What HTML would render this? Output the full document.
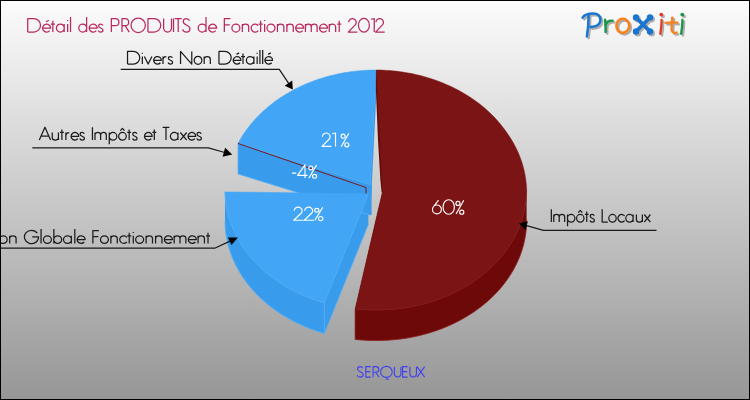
<!DOCTYPE html>
<html><head><meta charset="utf-8"><title>Détail des PRODUITS de Fonctionnement 2012</title>
<style>
html,body{margin:0;padding:0;background:#fff;}
body{width:750px;height:400px;overflow:hidden;font-family:"Liberation Sans",sans-serif;}
svg{display:block;font-family:"Liberation Sans",sans-serif;}
</style></head><body>
<svg width="750" height="400" viewBox="0 0 750 400">
<defs>
<linearGradient id="bg" x1="0" y1="0" x2="0" y2="1">
<stop offset="0" stop-color="#fcfcfc"/><stop offset="1" stop-color="#969696"/>
</linearGradient>
<clipPath id="inner"><rect x="1" y="1" width="748" height="398"/></clipPath>
</defs>
<rect x="0" y="0" width="750" height="400" fill="url(#bg)"/>
<rect x="0.5" y="0.5" width="749" height="399" fill="none" stroke="#000" stroke-width="1"/>
<g>
<polygon points="370.30,183.80 376.05,69.20 376.05,100.50 370.30,215.10" fill="#389beb" />
<polygon points="370.30,183.80 238.03,142.63 238.03,173.93 370.30,215.10" fill="#389beb" />
<polygon points="368.40,193.00 324.31,302.14 324.31,333.44 368.40,224.30" fill="#389beb" />
<polygon points="382.60,191.20 355.16,308.95 355.16,339.45 382.60,221.70" fill="#6e0909" />
<polygon points="375.00,70.00 376.30,100.00 378.00,140.00 380.40,180.00 381.60,192.50 383.60,192.00 377.60,70.00" fill="#650909" />
<polygon points="225.02,191.08 225.08,193.18 225.19,195.27 225.35,197.36 225.55,199.45 225.79,201.54 226.09,203.62 226.42,205.69 226.81,207.77 227.23,209.83 227.71,211.89 228.22,213.94 228.79,215.99 229.39,218.03 230.04,220.06 230.74,222.08 231.48,224.08 232.26,226.08 233.09,228.07 233.96,230.05 234.87,232.01 235.82,233.96 236.82,235.89 237.86,237.82 238.94,239.72 240.07,241.62 241.23,243.49 242.44,245.35 243.68,247.19 244.97,249.02 246.29,250.82 247.65,252.61 249.06,254.38 250.50,256.13 251.98,257.86 253.49,259.56 255.05,261.25 256.64,262.91 258.26,264.56 259.93,266.17 261.62,267.77 263.35,269.34 265.12,270.89 266.92,272.41 268.75,273.90 270.61,275.38 272.51,276.82 274.44,278.24 276.39,279.63 278.38,280.99 280.40,282.33 282.44,283.63 284.52,284.91 286.62,286.16 288.75,287.38 290.90,288.57 293.08,289.73 295.29,290.85 297.52,291.95 299.77,293.02 302.05,294.05 304.35,295.06 306.67,296.03 309.01,296.96 311.37,297.87 313.75,298.74 316.15,299.58 318.57,300.38 321.00,301.15 323.45,301.89 324.31,302.14 324.31,333.44 323.45,333.19 321.00,332.45 318.57,331.68 316.15,330.88 313.75,330.04 311.37,329.17 309.01,328.26 306.67,327.33 304.35,326.36 302.05,325.35 299.77,324.32 297.52,323.25 295.29,322.15 293.08,321.03 290.90,319.87 288.75,318.68 286.62,317.46 284.52,316.21 282.44,314.93 280.40,313.63 278.38,312.29 276.39,310.93 274.44,309.54 272.51,308.12 270.61,306.68 268.75,305.20 266.92,303.71 265.12,302.19 263.35,300.64 261.62,299.07 259.93,297.47 258.26,295.86 256.64,294.21 255.05,292.55 253.49,290.86 251.98,289.16 250.50,287.43 249.06,285.68 247.65,283.91 246.29,282.12 244.97,280.32 243.68,278.49 242.44,276.65 241.23,274.79 240.07,272.92 238.94,271.02 237.86,269.12 236.82,267.19 235.82,265.26 234.87,263.31 233.96,261.35 233.09,259.37 232.26,257.38 231.48,255.38 230.74,253.38 230.04,251.36 229.39,249.33 228.79,247.29 228.22,245.24 227.71,243.19 227.23,241.13 226.81,239.07 226.42,236.99 226.09,234.92 225.79,232.84 225.55,230.75 225.35,228.66 225.19,226.57 225.08,224.48 225.02,222.38" fill="#389beb" />
<polygon points="355.16,308.15 357.76,308.40 360.36,308.63 362.97,308.81 365.58,308.96 368.20,309.08 370.81,309.15 373.43,309.19 376.33,309.20 379.14,309.16 381.96,309.09 384.78,308.99 387.59,308.85 390.40,308.67 393.20,308.45 395.92,308.20 398.51,307.91 401.10,307.59 403.68,307.23 406.25,306.83 408.81,306.40 411.36,305.93 413.90,305.43 416.43,304.89 418.95,304.32 421.46,303.71 423.95,303.07 426.42,302.39 428.89,301.67 431.33,300.93 433.76,300.15 436.17,299.33 438.57,298.48 440.94,297.60 443.30,296.69 445.63,295.74 447.94,294.76 450.24,293.75 452.51,292.70 454.75,291.63 456.97,290.52 459.17,289.38 461.35,288.21 463.49,287.02 465.61,285.79 467.71,284.53 469.77,283.24 471.81,281.93 473.82,280.58 475.80,279.21 477.75,277.81 479.66,276.39 481.55,274.94 483.40,273.46 485.23,271.95 487.01,270.43 488.77,268.87 490.49,267.29 492.18,265.69 493.83,264.07 495.44,262.42 497.02,260.75 498.57,259.05 500.07,257.34 501.54,255.61 502.97,253.85 504.36,252.08 505.71,250.28 507.02,248.47 508.30,246.64 509.53,244.80 510.72,242.93 511.87,241.05 512.99,239.15 514.05,237.24 515.08,235.32 516.07,233.37 517.01,231.42 517.91,229.45 518.77,227.48 519.58,225.48 520.35,223.48 521.07,221.47 521.76,219.45 522.39,217.42 522.99,215.38 523.54,213.33 524.04,211.27 524.50,209.21 524.91,207.14 525.28,205.07 525.61,202.99 525.88,200.91 526.12,198.82 526.30,196.73 526.45,194.64 526.54,192.55 526.59,190.46 526.58,188.36 526.58,219.66 526.59,221.76 526.54,223.85 526.45,225.94 526.30,228.03 526.12,230.12 525.88,232.21 525.61,234.29 525.28,236.37 524.91,238.44 524.50,240.51 524.04,242.57 523.54,244.63 522.99,246.68 522.39,248.72 521.76,250.75 521.07,252.77 520.35,254.78 519.58,256.78 518.77,258.78 517.91,260.75 517.01,262.72 516.07,264.67 515.08,266.62 514.05,268.54 512.99,270.45 511.87,272.35 510.72,274.23 509.53,276.10 508.30,277.94 507.02,279.77 505.71,281.58 504.36,283.38 502.97,285.15 501.54,286.91 500.07,288.64 498.57,290.35 497.02,292.05 495.44,293.72 493.83,295.37 492.18,296.99 490.49,298.59 488.77,300.17 487.01,301.73 485.23,303.25 483.40,304.76 481.55,306.24 479.66,307.69 477.75,309.11 475.80,310.51 473.82,311.88 471.81,313.23 469.77,314.54 467.71,315.83 465.61,317.09 463.49,318.32 461.35,319.51 459.17,320.68 456.97,321.82 454.75,322.93 452.51,324.00 450.24,325.05 447.94,326.06 445.63,327.04 443.30,327.99 440.94,328.90 438.57,329.78 436.17,330.63 433.76,331.45 431.33,332.23 428.89,332.97 426.42,333.69 423.95,334.37 421.46,335.01 418.95,335.62 416.43,336.19 413.90,336.73 411.36,337.23 408.81,337.70 406.25,338.13 403.68,338.53 401.10,338.89 398.51,339.21 395.92,339.50 393.20,339.75 390.40,339.97 387.59,340.15 384.78,340.29 381.96,340.39 379.14,340.46 376.33,340.50 373.43,340.49 370.81,340.45 368.20,340.38 365.58,340.26 362.97,340.11 360.36,339.93 357.76,339.70 355.16,339.45" fill="#6e0909" />
<polygon points="369.50,184.00 371.70,184.00 371.60,215.00 369.50,215.00" fill="#389beb" />
<polyline points="225.02,222.38 225.08,224.48 225.19,226.57 225.35,228.66 225.55,230.75 225.79,232.84 226.09,234.92 226.42,236.99 226.81,239.07 227.23,241.13 227.71,243.19 228.22,245.24 228.79,247.29 229.39,249.33 230.04,251.36 230.74,253.38 231.48,255.38 232.26,257.38 233.09,259.37 233.96,261.35 234.87,263.31 235.82,265.26 236.82,267.19 237.86,269.12 238.94,271.02 240.07,272.92 241.23,274.79 242.44,276.65 243.68,278.49 244.97,280.32 246.29,282.12 247.65,283.91 249.06,285.68 250.50,287.43 251.98,289.16 253.49,290.86 255.05,292.55 256.64,294.21 258.26,295.86 259.93,297.47 261.62,299.07 263.35,300.64 265.12,302.19 266.92,303.71 268.75,305.20 270.61,306.68 272.51,308.12 274.44,309.54 276.39,310.93 278.38,312.29 280.40,313.63 282.44,314.93 284.52,316.21 286.62,317.46 288.75,318.68 290.90,319.87 293.08,321.03 295.29,322.15 297.52,323.25 299.77,324.32 302.05,325.35 304.35,326.36 306.67,327.33 309.01,328.26 311.37,329.17 313.75,330.04 316.15,330.88 318.57,331.68 321.00,332.45 323.45,333.19 324.31,333.44" fill="none" stroke="#55b0f8" stroke-width="0.90" stroke-linejoin="round"/>
<polyline points="324.31,302.94 324.31,333.44" fill="none" stroke="#55b0f8" stroke-width="0.80" stroke-linejoin="round"/>
<polyline points="324.31,333.44 368.40,224.30" fill="none" stroke="#55b0f8" stroke-width="0.80" stroke-linejoin="round"/>
<polyline points="355.16,339.45 357.76,339.70 360.36,339.93 362.97,340.11 365.58,340.26 368.20,340.38 370.81,340.45 373.43,340.49 376.33,340.50 379.14,340.46 381.96,340.39 384.78,340.29 387.59,340.15 390.40,339.97 393.20,339.75 395.92,339.50 398.51,339.21 401.10,338.89 403.68,338.53 406.25,338.13 408.81,337.70 411.36,337.23 413.90,336.73 416.43,336.19 418.95,335.62 421.46,335.01 423.95,334.37 426.42,333.69 428.89,332.97 431.33,332.23 433.76,331.45 436.17,330.63 438.57,329.78 440.94,328.90 443.30,327.99 445.63,327.04 447.94,326.06 450.24,325.05 452.51,324.00 454.75,322.93 456.97,321.82 459.17,320.68 461.35,319.51 463.49,318.32 465.61,317.09 467.71,315.83 469.77,314.54 471.81,313.23 473.82,311.88 475.80,310.51 477.75,309.11 479.66,307.69 481.55,306.24 483.40,304.76 485.23,303.25 487.01,301.73 488.77,300.17 490.49,298.59 492.18,296.99 493.83,295.37 495.44,293.72 497.02,292.05 498.57,290.35 500.07,288.64 501.54,286.91 502.97,285.15 504.36,283.38 505.71,281.58 507.02,279.77 508.30,277.94 509.53,276.10 510.72,274.23 511.87,272.35 512.99,270.45 514.05,268.54 515.08,266.62 516.07,264.67 517.01,262.72 517.91,260.75 518.77,258.78 519.58,256.78 520.35,254.78 521.07,252.77 521.76,250.75 522.39,248.72 522.99,246.68 523.54,244.63 524.04,242.57 524.50,240.51 524.91,238.44 525.28,236.37 525.61,234.29 525.88,232.21 526.12,230.12 526.30,228.03 526.45,225.94 526.54,223.85 526.59,221.76 526.58,219.66" fill="none" stroke="#8a2020" stroke-width="0.90" stroke-linejoin="round"/>
<polyline points="355.16,308.95 355.16,339.45" fill="none" stroke="#8a2020" stroke-width="0.80" stroke-linejoin="round"/>
<polyline points="238.03,173.93 370.30,215.10" fill="none" stroke="#55b0f8" stroke-width="0.90" stroke-linejoin="round"/>
<polyline points="238.03,143.43 238.03,173.93" fill="none" stroke="#55b0f8" stroke-width="0.80" stroke-linejoin="round"/>
<line x1="366.00" y1="187.50" x2="366.00" y2="194.30" stroke="#7a1820" stroke-width="1.0"/>
<polygon points="370.30,184.60 376.05,70.00 373.44,70.02 370.84,70.07 368.23,70.16 365.63,70.29 363.03,70.45 360.43,70.65 357.84,70.89 355.26,71.16 352.68,71.47 350.10,71.81 347.54,72.20 344.98,72.61 342.43,73.06 339.90,73.55 337.37,74.08 334.85,74.64 332.35,75.23 329.86,75.86 327.38,76.52 324.92,77.22 322.47,77.95 320.04,78.72 317.63,79.52 315.23,80.36 312.86,81.23 310.50,82.13 308.16,83.06 305.84,84.03 303.54,85.03 301.27,86.06 299.01,87.13 296.78,88.22 294.58,89.35 292.40,90.51 290.24,91.69 288.11,92.91 286.01,94.16 283.93,95.43 281.88,96.74 279.86,98.07 277.87,99.44 275.91,100.83 273.98,102.25 272.08,103.69 270.21,105.16 268.38,106.66 266.57,108.18 264.80,109.73 263.07,111.30 261.37,112.90 259.70,114.52 258.07,116.16 256.47,117.83 254.91,119.51 253.39,121.22 251.90,122.96 250.45,124.71 249.04,126.48 247.67,128.27 246.34,130.08 245.05,131.91 243.79,133.76 242.58,135.62 241.41,137.50 240.27,139.40 239.18,141.31 238.14,143.24 238.03,143.43" fill="#42a5f5" stroke="#42a5f5" stroke-width="0.5"/>
<polygon points="368.40,193.80 225.02,191.88 225.08,193.98 225.19,196.07 225.35,198.16 225.55,200.25 225.79,202.34 226.09,204.42 226.42,206.49 226.81,208.57 227.23,210.63 227.71,212.69 228.22,214.74 228.79,216.79 229.39,218.83 230.04,220.86 230.74,222.88 231.48,224.88 232.26,226.88 233.09,228.87 233.96,230.85 234.87,232.81 235.82,234.76 236.82,236.69 237.86,238.62 238.94,240.52 240.07,242.42 241.23,244.29 242.44,246.15 243.68,247.99 244.97,249.82 246.29,251.62 247.65,253.41 249.06,255.18 250.50,256.93 251.98,258.66 253.49,260.36 255.05,262.05 256.64,263.71 258.26,265.36 259.93,266.97 261.62,268.57 263.35,270.14 265.12,271.69 266.92,273.21 268.75,274.70 270.61,276.18 272.51,277.62 274.44,279.04 276.39,280.43 278.38,281.79 280.40,283.13 282.44,284.43 284.52,285.71 286.62,286.96 288.75,288.18 290.90,289.37 293.08,290.53 295.29,291.65 297.52,292.75 299.77,293.82 302.05,294.85 304.35,295.86 306.67,296.83 309.01,297.76 311.37,298.67 313.75,299.54 316.15,300.38 318.57,301.18 321.00,301.95 323.45,302.69 324.31,302.94" fill="#42a5f5" stroke="#42a5f5" stroke-width="0.5"/>
<polygon points="382.60,191.20 355.16,308.95 357.76,309.20 360.36,309.43 362.97,309.61 365.58,309.76 368.20,309.88 370.81,309.95 373.43,309.99 376.33,310.00 379.14,309.96 381.96,309.89 384.78,309.79 387.59,309.65 390.40,309.47 393.20,309.25 395.92,309.00 398.51,308.71 401.10,308.39 403.68,308.03 406.25,307.63 408.81,307.20 411.36,306.73 413.90,306.23 416.43,305.69 418.95,305.12 421.46,304.51 423.95,303.87 426.42,303.19 428.89,302.47 431.33,301.73 433.76,300.95 436.17,300.13 438.57,299.28 440.94,298.40 443.30,297.49 445.63,296.54 447.94,295.56 450.24,294.55 452.51,293.50 454.75,292.43 456.97,291.32 459.17,290.18 461.35,289.01 463.49,287.82 465.61,286.59 467.71,285.33 469.77,284.04 471.81,282.73 473.82,281.38 475.80,280.01 477.75,278.61 479.66,277.19 481.55,275.74 483.40,274.26 485.23,272.75 487.01,271.23 488.77,269.67 490.49,268.09 492.18,266.49 493.83,264.87 495.44,263.22 497.02,261.55 498.57,259.85 500.07,258.14 501.54,256.41 502.97,254.65 504.36,252.88 505.71,251.08 507.02,249.27 508.30,247.44 509.53,245.60 510.72,243.73 511.87,241.85 512.99,239.95 514.05,238.04 515.08,236.12 516.07,234.17 517.01,232.22 517.91,230.25 518.77,228.28 519.58,226.28 520.35,224.28 521.07,222.27 521.76,220.25 522.39,218.22 522.99,216.18 523.54,214.13 524.04,212.07 524.50,210.01 524.91,207.94 525.28,205.87 525.61,203.79 525.88,201.71 526.12,199.62 526.30,197.53 526.45,195.44 526.54,193.35 526.59,191.26 526.58,189.16 526.48,187.07 526.34,184.97 526.15,182.88 525.92,180.79 525.65,178.71 525.32,176.62 524.96,174.54 524.54,172.47 524.08,170.40 523.58,168.34 523.03,166.28 522.44,164.23 521.80,162.19 521.12,160.16 520.39,158.13 519.62,156.12 518.81,154.12 517.95,152.12 517.05,150.14 516.10,148.17 515.12,146.21 514.09,144.27 513.02,142.34 511.90,140.43 510.75,138.53 509.55,136.64 508.31,134.78 507.03,132.93 505.71,131.09 504.38,129.28 503.03,127.48 501.65,125.70 500.23,123.94 498.77,122.20 497.27,120.49 495.73,118.79 494.16,117.11 492.55,115.46 490.91,113.83 489.23,112.23 487.52,110.64 485.77,109.08 483.99,107.55 482.17,106.04 480.32,104.56 478.44,103.10 476.53,101.67 474.59,100.26 472.62,98.89 470.61,97.54 468.58,96.22 466.52,94.93 464.43,93.66 462.32,92.43 460.18,91.22 458.01,90.05 455.82,88.91 453.60,87.79 451.36,86.71 449.09,85.66 446.80,84.64 444.49,83.66 442.16,82.70 439.81,81.78 437.44,80.89 435.05,80.04 432.64,79.21 430.22,78.43 427.78,77.67 425.32,76.95 422.84,76.27 420.36,75.62 417.85,75.00 415.34,74.42 412.81,73.87 410.27,73.36 407.72,72.89 405.16,72.45 402.59,72.05 400.02,71.68 397.43,71.35 394.84,71.05 392.24,70.80 389.64,70.57 387.03,70.39 384.42,70.24 381.80,70.12 379.19,70.05 376.57,70.01 376.44,70.01" fill="#7b1414" stroke="#7b1414" stroke-width="0.5"/>
<polyline points="238.03,143.43 370.30,184.60" fill="none" stroke="#58b1f7" stroke-width="0.70" stroke-linejoin="round"/>
<polyline points="225.02,191.88 225.08,193.98 225.19,196.07 225.35,198.16 225.55,200.25 225.79,202.34 226.09,204.42 226.42,206.49 226.81,208.57 227.23,210.63 227.71,212.69 228.22,214.74 228.79,216.79 229.39,218.83 230.04,220.86 230.74,222.88 231.48,224.88 232.26,226.88 233.09,228.87 233.96,230.85 234.87,232.81 235.82,234.76 236.82,236.69 237.86,238.62 238.94,240.52 240.07,242.42 241.23,244.29 242.44,246.15 243.68,247.99 244.97,249.82 246.29,251.62 247.65,253.41 249.06,255.18 250.50,256.93 251.98,258.66 253.49,260.36 255.05,262.05 256.64,263.71 258.26,265.36 259.93,266.97 261.62,268.57 263.35,270.14 265.12,271.69 266.92,273.21 268.75,274.70 270.61,276.18 272.51,277.62 274.44,279.04 276.39,280.43 278.38,281.79 280.40,283.13 282.44,284.43 284.52,285.71 286.62,286.96 288.75,288.18 290.90,289.37 293.08,290.53 295.29,291.65 297.52,292.75 299.77,293.82 302.05,294.85 304.35,295.86 306.67,296.83 309.01,297.76 311.37,298.67 313.75,299.54 316.15,300.38 318.57,301.18 321.00,301.95 323.45,302.69 324.31,302.94" fill="none" stroke="#58b1f7" stroke-width="0.70" stroke-linejoin="round"/>
<polyline points="368.40,193.80 324.31,302.94" fill="none" stroke="#58b1f7" stroke-width="0.70" stroke-linejoin="round"/>
<polyline points="355.16,308.95 357.76,309.20 360.36,309.43 362.97,309.61 365.58,309.76 368.20,309.88 370.81,309.95 373.43,309.99 376.33,310.00 379.14,309.96 381.96,309.89 384.78,309.79 387.59,309.65 390.40,309.47 393.20,309.25 395.92,309.00 398.51,308.71 401.10,308.39 403.68,308.03 406.25,307.63 408.81,307.20 411.36,306.73 413.90,306.23 416.43,305.69 418.95,305.12 421.46,304.51 423.95,303.87 426.42,303.19 428.89,302.47 431.33,301.73 433.76,300.95 436.17,300.13 438.57,299.28 440.94,298.40 443.30,297.49 445.63,296.54 447.94,295.56 450.24,294.55 452.51,293.50 454.75,292.43 456.97,291.32 459.17,290.18 461.35,289.01 463.49,287.82 465.61,286.59 467.71,285.33 469.77,284.04 471.81,282.73 473.82,281.38 475.80,280.01 477.75,278.61 479.66,277.19 481.55,275.74 483.40,274.26 485.23,272.75 487.01,271.23 488.77,269.67 490.49,268.09 492.18,266.49 493.83,264.87 495.44,263.22 497.02,261.55 498.57,259.85 500.07,258.14 501.54,256.41 502.97,254.65 504.36,252.88 505.71,251.08 507.02,249.27 508.30,247.44 509.53,245.60 510.72,243.73 511.87,241.85 512.99,239.95 514.05,238.04 515.08,236.12 516.07,234.17 517.01,232.22 517.91,230.25 518.77,228.28 519.58,226.28 520.35,224.28 521.07,222.27 521.76,220.25 522.39,218.22 522.99,216.18 523.54,214.13 524.04,212.07 524.50,210.01 524.91,207.94 525.28,205.87 525.61,203.79 525.88,201.71 526.12,199.62 526.30,197.53 526.45,195.44 526.54,193.35 526.59,191.26 526.58,189.16" fill="none" stroke="#882626" stroke-width="0.70" stroke-linejoin="round"/>
<line x1="238.03" y1="143.43" x2="366.00" y2="187.50" stroke="#7a1820" stroke-width="1.0"/>
</g>
<g>
<path d="M27.73 32.08L27.73 18.58L33.78 18.58A6.73 6.75 0 0 1 33.78 32.08L27.73 32.08M42.68 28.08L50.64 28.08A3.98 3.99 0 1 0 49.72 30.65M46.03 21.76L48.84 20.21M52.85 32.08L52.85 20.79M50.83 24.07L54.91 24.07M56.37 28.08A3.98 3.99 0 1 0 64.33 28.08A3.98 3.99 0 1 0 56.37 28.08M64.20 32.08L64.20 24.07M67.66 32.08L67.66 24.07M67.66 21.08L67.66 20.12M70.54 32.08L70.54 17.03M78.77 28.08A3.98 3.99 0 1 0 86.73 28.08A3.98 3.99 0 1 0 78.77 28.08M86.60 32.08L86.60 17.03M89.25 28.08L97.21 28.08A3.98 3.99 0 1 0 96.28 30.65M102.86 25.38C102.48 24.52 101.63 24.07 100.67 24.07C99.40 24.07 98.59 24.92 98.59 26.00C98.59 27.18 99.55 27.62 100.67 28.01C101.98 28.47 103.01 28.91 103.01 30.09C103.01 31.27 101.98 32.08 100.67 32.08C99.55 32.08 98.67 31.54 98.28 30.42M111.34 32.08L111.34 18.58L115.43 18.58A3.65 3.57 0 0 1 115.43 25.71L111.34 25.71M122.01 32.08L122.01 18.58L125.28 18.58A3.56 3.57 0 0 1 125.28 25.71L122.01 25.71M125.09 25.71L129.22 32.08M131.01 25.33A7.19 7.21 0 1 0 145.39 25.33A7.19 7.21 0 1 0 131.01 25.33M147.96 32.08L147.96 18.58L154.02 18.58A6.73 6.75 0 0 1 154.02 32.08L147.96 32.08M163.63 18.58L163.63 28.12A3.94 3.95 0 0 0 171.52 28.12L171.52 18.58M173.54 32.08L173.54 18.58M174.75 18.58L181.67 18.58M178.21 18.58L178.21 32.08M189.49 20.70C188.92 19.35 187.76 18.58 186.32 18.58C184.49 18.58 183.24 19.73 183.24 21.56C183.24 23.59 184.88 24.36 186.42 25.04C188.34 25.90 189.97 26.68 189.97 28.80C189.97 30.73 188.44 32.08 186.32 32.08C184.49 32.08 183.15 31.11 182.67 29.38M198.20 28.08A3.98 3.99 0 1 0 206.16 28.08A3.98 3.99 0 1 0 198.20 28.08M206.03 32.08L206.03 17.03M208.68 28.08L216.64 28.08A3.98 3.99 0 1 0 215.72 30.65M224.33 32.08L224.33 18.58L230.39 18.58M224.33 24.94L229.81 24.94M231.89 28.08A3.98 3.99 0 1 0 239.85 28.08A3.98 3.99 0 1 0 231.89 28.08M242.31 32.08L242.31 24.07M242.31 26.87A3.19 2.80 0 0 1 248.69 26.87L248.69 32.08M258.26 25.63A3.98 3.99 0 1 0 258.26 30.53M260.61 32.08L260.61 20.79M258.59 24.07L262.67 24.07M264.65 32.08L264.65 24.07M264.65 21.08L264.65 20.12M267.01 28.08A3.98 3.99 0 1 0 274.97 28.08A3.98 3.99 0 1 0 267.01 28.08M277.43 32.08L277.43 24.07M277.43 26.87A3.19 2.80 0 0 1 283.82 26.87L283.82 32.08M286.89 32.08L286.89 24.07M286.89 26.87A3.19 2.80 0 0 1 293.27 26.87L293.27 32.08M295.74 28.08L303.70 28.08A3.98 3.99 0 1 0 302.77 30.65M305.43 32.08L305.43 24.07M305.43 26.68A2.92 2.60 0 0 1 311.27 26.68L311.27 32.08M311.27 26.68A2.92 2.60 0 0 1 317.11 26.68L317.11 32.08M319.58 28.08L327.54 28.08A3.98 3.99 0 1 0 326.61 30.65M329.27 32.08L329.27 24.07M329.27 26.87A3.19 2.80 0 0 1 335.65 26.87L335.65 32.08M339.21 32.08L339.21 20.79M337.19 24.07L341.26 24.07M348.66 22.34A3.75 3.76 0 1 1 355.20 24.86L348.28 32.08L357.41 32.08M358.43 25.33A5.48 6.87 0 1 0 369.39 25.33A5.48 6.87 0 1 0 358.43 25.33M370.89 19.25L374.25 18.58L374.25 32.08M375.93 22.34A3.75 3.76 0 1 1 382.46 24.86L375.54 32.08L384.67 32.08" fill="none" stroke="#b8285f" stroke-width="1.25" stroke-linejoin="round"/>
<path d="M127.53 64.08L127.53 51.38L133.32 51.38A6.44 6.35 0 0 1 133.32 64.08L127.53 64.08M142.34 64.08L142.34 56.55M142.34 53.73L142.34 52.83M144.36 56.55L148.13 64.08L151.91 56.55M153.71 60.32L161.33 60.32A3.81 3.76 0 1 0 160.44 62.73M162.98 64.08L162.98 56.55M162.98 59.54Q163.26 56.64 166.33 56.64M172.44 57.78C172.07 56.96 171.26 56.55 170.34 56.55C169.13 56.55 168.36 57.34 168.36 58.36C168.36 59.47 169.28 59.88 170.34 60.25C171.59 60.68 172.59 61.10 172.59 62.21C172.59 63.31 171.59 64.08 170.34 64.08C169.28 64.08 168.43 63.57 168.06 62.51M180.55 64.08L180.55 51.38L191.78 64.08L191.78 51.38M194.23 60.32A3.81 3.76 0 1 0 201.84 60.32A3.81 3.76 0 1 0 194.23 60.32M204.20 64.08L204.20 56.55M204.20 59.18A3.05 2.63 0 0 1 210.31 59.18L210.31 64.08M218.96 64.08L218.96 51.38L224.75 51.38A6.44 6.35 0 0 1 224.75 64.08L218.96 64.08M233.27 60.32L240.89 60.32A3.81 3.76 0 1 0 240.01 62.73M236.47 54.37L239.16 52.92M243.01 64.08L243.01 53.46M241.07 56.55L244.97 56.55M246.37 60.32A3.81 3.76 0 1 0 253.99 60.32A3.81 3.76 0 1 0 246.37 60.32M253.86 64.08L253.86 56.55M257.17 64.08L257.17 56.55M257.17 53.73L257.17 52.83M259.93 64.08L259.93 49.92M262.69 64.08L262.69 49.92M264.96 60.32L272.57 60.32A3.81 3.76 0 1 0 271.69 62.73M268.16 54.37L270.85 52.92" fill="none" stroke="#1c1c1c" stroke-width="1.25" stroke-linejoin="round"/>
<path d="M120.7 69.4 L279.3 69.4 L289.0 83.9" fill="none" stroke="#1a1a1a" stroke-width="1.2" stroke-linejoin="round"/><polygon points="292.80,89.60 284.68,85.64 292.25,80.59" fill="#000" />
<path d="M39.33 140.07L44.95 127.27L50.57 140.07M41.15 136.14L48.74 136.14M52.26 132.49L52.26 137.42A3.09 2.65 0 0 0 58.44 137.42M58.44 132.49L58.44 140.07M61.89 140.07L61.89 129.38M59.93 132.49L63.88 132.49M65.89 140.07L65.89 132.49M65.89 135.50Q66.17 132.58 69.28 132.58M71.06 136.29L78.77 136.29A3.85 3.79 0 1 0 77.88 138.72M84.24 133.73C83.87 132.91 83.05 132.49 82.12 132.49C80.89 132.49 80.11 133.29 80.11 134.31C80.11 135.43 81.04 135.85 82.12 136.22C83.39 136.66 84.39 137.08 84.39 138.19C84.39 139.31 83.39 140.07 82.12 140.07C81.04 140.07 80.19 139.56 79.81 138.50M92.45 140.07L92.45 127.27M94.97 140.07L94.97 132.49M94.97 134.95A2.83 2.47 0 0 1 100.63 134.95L100.63 140.07M100.63 134.95A2.83 2.47 0 0 1 106.29 134.95L106.29 140.07M109.26 144.37L109.26 132.49M109.13 136.29A3.85 3.79 0 1 0 116.84 136.29A3.85 3.79 0 1 0 109.13 136.29M118.57 136.29A3.85 3.79 0 1 0 126.28 136.29A3.85 3.79 0 1 0 118.57 136.29M120.28 130.57L122.43 128.37L124.57 130.57M129.13 140.07L129.13 129.38M127.17 132.49L131.12 132.49M136.93 133.73C136.56 132.91 135.74 132.49 134.81 132.49C133.58 132.49 132.79 133.29 132.79 134.31C132.79 135.43 133.73 135.85 134.81 136.22C136.07 136.66 137.08 137.08 137.08 138.19C137.08 139.31 136.07 140.07 134.81 140.07C133.73 140.07 132.87 139.56 132.50 138.50M144.45 136.29L152.15 136.29A3.85 3.79 0 1 0 151.26 138.72M154.30 140.07L154.30 129.38M152.34 132.49L156.29 132.49M162.64 127.27L169.34 127.27M165.99 127.27L165.99 140.07M170.36 136.29A3.85 3.79 0 1 0 178.07 136.29A3.85 3.79 0 1 0 170.36 136.29M177.94 140.07L177.94 132.49M180.36 132.49L186.69 140.07M186.69 132.49L180.36 140.07M188.05 136.29L195.75 136.29A3.85 3.79 0 1 0 194.86 138.72M201.23 133.73C200.85 132.91 200.03 132.49 199.10 132.49C197.88 132.49 197.09 133.29 197.09 134.31C197.09 135.43 198.02 135.85 199.10 136.22C200.37 136.66 201.38 137.08 201.38 138.19C201.38 139.31 200.37 140.07 199.10 140.07C198.02 140.07 197.17 139.56 196.80 138.50" fill="none" stroke="#1c1c1c" stroke-width="1.25" stroke-linejoin="round"/>
<path d="M32.3 147.9 L208.4 147.9 L224.8 152.5" fill="none" stroke="#1a1a1a" stroke-width="1.2" stroke-linejoin="round"/><polygon points="232.20,154.60 222.63,156.68 225.12,147.83" fill="#000" />
<g clip-path="url(#inner)"><path d="M-48.50 243.38L-48.50 230.57L-42.43 230.57A6.74 6.40 0 0 1 -42.43 243.38L-48.50 243.38M-33.51 239.59A3.99 3.79 0 1 0 -25.53 239.59A3.99 3.79 0 1 0 -33.51 239.59M-22.58 243.38L-22.58 232.68M-24.61 235.79L-20.52 235.79M-19.06 239.59A3.99 3.79 0 1 0 -11.08 239.59A3.99 3.79 0 1 0 -19.06 239.59M-11.21 243.38L-11.21 235.79M-7.17 243.38L-7.17 232.68M-9.19 235.79L-5.11 235.79M-3.12 243.38L-3.12 235.79M-3.12 232.95L-3.12 232.04M-0.75 239.59A3.99 3.79 0 1 0 7.23 239.59A3.99 3.79 0 1 0 -0.75 239.59M9.69 243.38L9.69 235.79M9.69 238.44A3.20 2.65 0 0 1 16.09 238.44L16.09 243.38M37.29 233.13A7.05 6.69 0 1 0 38.56 236.97L32.18 236.97M41.05 243.38L41.05 229.11M43.42 239.59A3.99 3.79 0 1 0 51.40 239.59A3.99 3.79 0 1 0 43.42 239.59M53.86 243.38L53.86 229.11M53.73 239.59A3.99 3.79 0 1 0 61.71 239.59A3.99 3.79 0 1 0 53.73 239.59M63.50 239.59A3.99 3.79 0 1 0 71.48 239.59A3.99 3.79 0 1 0 63.50 239.59M71.34 243.38L71.34 235.79M74.81 243.38L74.81 229.11M77.18 239.59L85.16 239.59A3.99 3.79 0 1 0 84.23 242.02M92.87 243.38L92.87 230.57L98.94 230.57M92.87 236.61L98.36 236.61M100.44 239.59A3.99 3.79 0 1 0 108.42 239.59A3.99 3.79 0 1 0 100.44 239.59M110.89 243.38L110.89 235.79M110.89 238.44A3.20 2.65 0 0 1 117.28 238.44L117.28 243.38M126.88 237.27A3.99 3.79 0 1 0 126.88 241.91M129.23 243.38L129.23 232.68M127.21 235.79L131.29 235.79M133.28 243.38L133.28 235.79M133.28 232.95L133.28 232.04M135.65 239.59A3.99 3.79 0 1 0 143.63 239.59A3.99 3.79 0 1 0 135.65 239.59M146.09 243.38L146.09 235.79M146.09 238.44A3.20 2.65 0 0 1 152.49 238.44L152.49 243.38M155.58 243.38L155.58 235.79M155.58 238.44A3.20 2.65 0 0 1 161.97 238.44L161.97 243.38M164.44 239.59L172.42 239.59A3.99 3.79 0 1 0 171.49 242.02M174.15 243.38L174.15 235.79M174.15 238.25A2.93 2.47 0 0 1 180.01 238.25L180.01 243.38M180.01 238.25A2.93 2.47 0 0 1 185.87 238.25L185.87 243.38M188.34 239.59L196.32 239.59A3.99 3.79 0 1 0 195.39 242.02M198.05 243.38L198.05 235.79M198.05 238.44A3.20 2.65 0 0 1 204.45 238.44L204.45 243.38M208.01 243.38L208.01 232.68M205.99 235.79L210.07 235.79" fill="none" stroke="#1c1c1c" stroke-width="1.25" stroke-linejoin="round"/></g>
<path d="M-5.0 248.2 L214.7 248.2 L230.6 240.9" fill="none" stroke="#1a1a1a" stroke-width="1.2" stroke-linejoin="round"/><polygon points="237.90,237.50 231.49,245.08 227.97,237.46" fill="#000" />
<path d="M551.33 222.07L551.33 209.27M553.75 222.07L553.75 214.49M553.75 216.95A2.73 2.47 0 0 1 559.21 216.95L559.21 222.07M559.21 216.95A2.73 2.47 0 0 1 564.68 216.95L564.68 222.07M567.55 226.37L567.55 214.49M567.43 218.29A3.72 3.79 0 1 0 574.87 218.29A3.72 3.79 0 1 0 567.43 218.29M576.54 218.29A3.72 3.79 0 1 0 583.98 218.29A3.72 3.79 0 1 0 576.54 218.29M578.19 212.57L580.26 210.37L582.32 212.57M586.73 222.07L586.73 211.38M584.84 214.49L588.65 214.49M594.26 215.73C593.90 214.91 593.10 214.49 592.21 214.49C591.02 214.49 590.27 215.29 590.27 216.31C590.27 217.43 591.16 217.85 592.21 218.22C593.43 218.66 594.40 219.08 594.40 220.19C594.40 221.31 593.43 222.07 592.21 222.07C591.16 222.07 590.34 221.56 589.98 220.50M602.18 209.27L602.18 222.07L607.84 222.07M608.79 218.29A3.72 3.79 0 1 0 616.23 218.29A3.72 3.79 0 1 0 608.79 218.29M624.61 215.97A3.72 3.79 0 1 0 624.61 220.61M625.77 218.29A3.72 3.79 0 1 0 633.21 218.29A3.72 3.79 0 1 0 625.77 218.29M633.09 222.07L633.09 214.49M636.41 214.49L636.41 219.42A2.98 2.65 0 0 0 642.38 219.42M642.38 214.49L642.38 222.07M644.27 214.49L650.38 222.07M650.38 214.49L644.27 222.07" fill="none" stroke="#1c1c1c" stroke-width="1.25" stroke-linejoin="round"/>
<path d="M656.5 230.3 L543.5 230.3 L525.7 225.4" fill="none" stroke="#1a1a1a" stroke-width="1.2" stroke-linejoin="round"/><polygon points="519.00,223.50 527.85,221.34 525.47,229.91" fill="#000" />
<path d="M362.81 368.28C362.33 367.23 361.37 366.63 360.18 366.63C358.66 366.63 357.63 367.53 357.63 368.96C357.63 370.54 358.98 371.14 360.26 371.66C361.85 372.34 363.21 372.94 363.21 374.60C363.21 376.10 361.93 377.15 360.18 377.15C358.66 377.15 357.55 376.40 357.15 375.05M370.78 366.63L365.76 366.63L365.76 377.15L370.78 377.15M365.76 371.59L370.38 371.59M373.09 377.15L373.09 366.63L375.80 366.63A2.95 2.78 0 0 1 375.80 372.19L373.09 372.19M375.64 372.19L379.07 377.15M380.56 371.89A5.83 5.50 0 1 0 392.23 371.89A5.83 5.50 0 1 0 380.56 371.89M385.71 379.13L388.68 379.13M394.37 366.63L394.37 374.07A3.27 3.08 0 0 0 400.90 374.07L400.90 366.63M407.60 366.63L402.58 366.63L402.58 377.15L407.60 377.15M402.58 371.59L407.20 371.59M409.91 366.63L409.91 374.07A3.27 3.08 0 0 0 416.44 374.07L416.44 366.63M417.00 366.63L424.65 377.15M424.65 366.63L417.00 377.15" fill="none" stroke="#4040f0" stroke-width="1.10" stroke-linejoin="round"/>
<path d="M322.37 136.77A3.86 3.73 0 1 1 329.09 139.28L321.97 146.43L331.37 146.43M332.06 133.71L335.52 133.05L335.52 146.43M341.06 136.24A2.04 1.97 0 1 0 345.13 136.24A2.04 1.97 0 1 0 341.06 136.24M344.77 144.80A2.08 2.01 0 1 0 348.93 144.80A2.08 2.01 0 1 0 344.77 144.80M348.85 133.20L341.21 146.62" fill="none" stroke="#fff" stroke-width="1.15" stroke-linejoin="round"/>
<path d="M291.88 173.10L296.32 173.10M305.01 177.93L305.01 164.84L297.60 175.35L307.54 175.35M308.76 167.97A2.03 1.92 0 1 0 312.83 167.97A2.03 1.92 0 1 0 308.76 167.97M312.48 176.34A2.07 1.96 0 1 0 316.62 176.34A2.07 1.96 0 1 0 312.48 176.34M316.55 164.99L308.92 178.11" fill="none" stroke="#fff" stroke-width="1.15" stroke-linejoin="round"/>
<path d="M294.18 210.79A3.99 3.64 0 1 1 301.14 213.24L293.77 220.23L303.49 220.23M304.66 210.79A3.99 3.64 0 1 1 311.61 213.24L304.25 220.23L313.97 220.23M314.68 210.27A2.11 1.92 0 1 0 318.90 210.27A2.11 1.92 0 1 0 314.68 210.27M318.53 218.64A2.15 1.96 0 1 0 322.82 218.64A2.15 1.96 0 1 0 318.53 218.64M322.74 207.29L314.85 220.41" fill="none" stroke="#fff" stroke-width="1.15" stroke-linejoin="round"/>
<path d="M432.47 209.43A4.47 4.40 0 1 0 441.41 209.43A4.47 4.40 0 1 0 432.47 209.43M438.53 200.15L433.21 207.08M443.06 206.99A5.66 6.96 0 1 0 454.37 206.99A5.66 6.96 0 1 0 443.06 206.99M455.92 203.41A2.04 2.01 0 1 0 460.01 203.41A2.04 2.01 0 1 0 455.92 203.41M459.66 212.16A2.08 2.05 0 1 0 463.82 212.16A2.08 2.05 0 1 0 459.66 212.16M463.75 200.30L456.08 214.02" fill="none" stroke="#fff" stroke-width="1.15" stroke-linejoin="round"/>
</g>
<defs><filter id="lsh" x="-10%" y="-30%" width="120%" height="160%"><feGaussianBlur stdDeviation="0.45"/></filter></defs><g transform="translate(1.7,1.7)" filter="url(#lsh)" opacity="0.85"><g fill="none" stroke-linecap="round" stroke-linejoin="round">
<path stroke="#a0a0a0" d="M582.6 17.6 C584.5 14.6 588.5 13.6 593 13.6 C598 13.6 600.4 16.2 600.4 20 C600.4 24.2 597 26.8 590.5 27" stroke-width="2.5"/>
<path stroke="#a0a0a0" d="M588.6 15 C588.6 22 588 30 586.9 36.4" stroke-width="2.5"/>
<path stroke="#a0a0a0" d="M605 19.8 C605.6 24 605.8 28 605.6 32" stroke-width="2.4"/>
<path stroke="#a0a0a0" d="M605.7 25 C606.5 22 609 20.4 612.6 20.6" stroke-width="2.4"/>
<ellipse stroke="#a0a0a0" cx="622.8" cy="25.8" rx="6.4" ry="7.0" stroke-width="2.6"/>
<path stroke="#a0a0a0" d="M636 17.5 L650 31.5 M650 17.5 L636 31.5" stroke-width="3.8"/>
<g fill="#a0a0a0" stroke="none"><circle cx="636" cy="17.5" r="3.2"/><circle cx="650" cy="17.5" r="3.2"/><circle cx="636" cy="31.5" r="3.2"/><circle cx="650" cy="31.5" r="3.2"/></g>
<circle fill="#a0a0a0" cx="661.3" cy="14.6" r="1.9"/>
<path stroke="#a0a0a0" d="M661.6 19.8 C661.6 25 661 30 660.3 33.8" stroke-width="2.3"/>
<path stroke="#a0a0a0" d="M672.3 17.6 C672 23 671.2 28 671.8 30.5 C672.3 32.8 674.5 33.2 676.6 32.6" stroke-width="2.4"/>
<path stroke="#a0a0a0" d="M665.6 22.9 C669 22.3 673 22.3 677.5 22.6" stroke-width="2.2"/>
<circle fill="#a0a0a0" cx="682.3" cy="14.6" r="1.9"/>
<path stroke="#a0a0a0" d="M682.4 19.8 C682.4 25 681.8 30 681.2 33.8" stroke-width="2.3"/>
</g></g><g fill="none" stroke-linecap="round" stroke-linejoin="round">
<path stroke="#1a75d1" d="M582.6 17.6 C584.5 14.6 588.5 13.6 593 13.6 C598 13.6 600.4 16.2 600.4 20 C600.4 24.2 597 26.8 590.5 27" stroke-width="2.5"/>
<path stroke="#1a75d1" d="M588.6 15 C588.6 22 588 30 586.9 36.4" stroke-width="2.5"/>
<path stroke="#17964a" d="M605 19.8 C605.6 24 605.8 28 605.6 32" stroke-width="2.4"/>
<path stroke="#17964a" d="M605.7 25 C606.5 22 609 20.4 612.6 20.6" stroke-width="2.4"/>
<ellipse stroke="#f7821e" cx="622.8" cy="25.8" rx="6.4" ry="7.0" stroke-width="2.6"/>
<path stroke="#1a75d1" d="M636 17.5 L650 31.5 M650 17.5 L636 31.5" stroke-width="3.8"/>
<g fill="#1a75d1" stroke="none"><circle cx="636" cy="17.5" r="3.2"/><circle cx="650" cy="17.5" r="3.2"/><circle cx="636" cy="31.5" r="3.2"/><circle cx="650" cy="31.5" r="3.2"/></g>
<circle fill="#e63a1e" cx="661.3" cy="14.6" r="1.9"/>
<path stroke="#e63a1e" d="M661.6 19.8 C661.6 25 661 30 660.3 33.8" stroke-width="2.3"/>
<path stroke="#f7821e" d="M672.3 17.6 C672 23 671.2 28 671.8 30.5 C672.3 32.8 674.5 33.2 676.6 32.6" stroke-width="2.4"/>
<path stroke="#f7821e" d="M665.6 22.9 C669 22.3 673 22.3 677.5 22.6" stroke-width="2.2"/>
<circle fill="#17964a" cx="682.3" cy="14.6" r="1.9"/>
<path stroke="#17964a" d="M682.4 19.8 C682.4 25 681.8 30 681.2 33.8" stroke-width="2.3"/>
</g>
</svg>
</body></html>
